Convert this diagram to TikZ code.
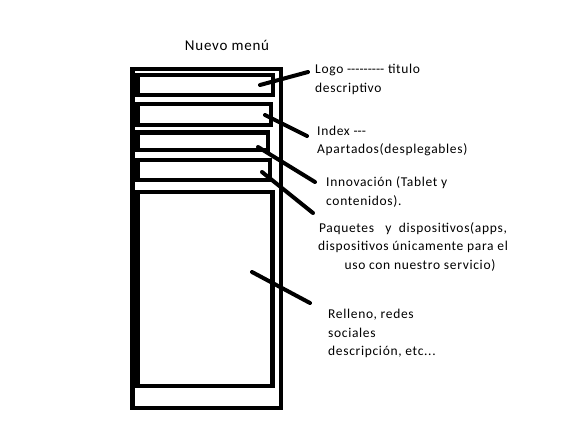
\documentclass[tikz,border=0pt]{standalone}
\usepackage{fontspec}
\setmainfont{Carlito}[LetterSpace=5]
\newcommand{\rayita}{\mbox{-}}
\begin{document}
\begin{tikzpicture}[x=1pt,y=-1pt,
    caja/.style={line width=4.5pt},
    raya/.style={line width=4pt,line cap=round},
    nota/.style={anchor=west,inner sep=0pt,align=left,font=\fontsize{13.5}{18.5}\selectfont}]
	  \useasboundingbox (0,0) rectangle (562,445);
	  % marco y bloques
	  \draw[caja] (132.5,69) rectangle (281,408);
	  \draw[caja] (137.5,75) rectangle (273,95);
	  \draw[caja] (137.5,104) rectangle (271,125);
	  \draw[caja] (137.5,132.5) rectangle (268,150);
	  \draw[caja] (137.5,160) rectangle (270,180);
	  \draw[caja] (137.5,192) rectangle (272.5,386);
	  \node[inner sep=0pt,font=\fontsize{15}{15}\selectfont] (titulo) at (227,45) {Nuevo menú};
	  % textos
	  \node[nota] (logo) at (315,79.5) {Logo \rayita\rayita\rayita\rayita\rayita\rayita\rayita\rayita\rayita{} titulo\\descriptivo};
	  \node[nota] (index) at (317,141) {Index \rayita\rayita\rayita\\Apartados(desplegables)};
	  \node[nota] (innov) at (326,192) {Innovación (Tablet y\\contenidos).};
	  \node[nota,anchor=center,align=center] (paq) at (413,246.5) {Paquetes\ \ \ y\ \ dispositivos(apps,\\dispositivos únicamente para el\\\hspace*{14pt}uso con nuestro servicio)};
	  \node[nota] (relleno) at (328,333.5) {Relleno, redes\\sociales\\descripción, etc...};
	  % rayas
	  \coordinate (a1) at (260,85);  \coordinate (b1) at (308,72);
	  \coordinate (a2) at (265,115); \coordinate (b2) at (307,136);
	  \coordinate (a3) at (258,147); \coordinate (b3) at (315,182);
	  \coordinate (a4) at (262,172); \coordinate (b4) at (313,213);
	  \coordinate (a5) at (252,272); \coordinate (b5) at (310,303);
	  \foreach \i in {1,...,5} \draw[raya] (a\i) -- (b\i);
\end{tikzpicture}
\end{document}
